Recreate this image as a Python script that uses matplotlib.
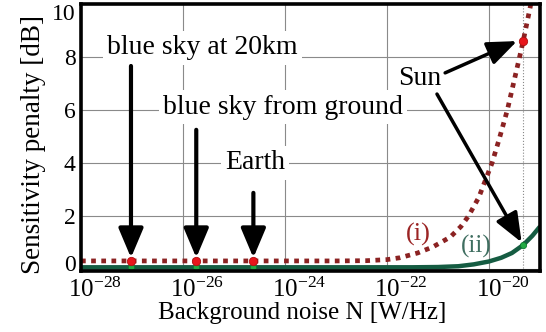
import numpy as np
import matplotlib
matplotlib.use("Agg")
import matplotlib.pyplot as plt
from matplotlib.transforms import ScaledTranslation

plt.rcParams['font.family'] = ['Liberation Serif', 'DejaVu Serif']
plt.rcParams['mathtext.fontset'] = 'custom'
plt.rcParams['mathtext.rm'] = 'Liberation Serif'
plt.rcParams['mathtext.it'] = 'Liberation Serif:italic'

# curve (i): dotted, log10(N) vs penalty [dB]
logN_i = [-28.0, -24.0, -23.0, -22.4, -22.0, -21.75, -21.4, -21.1, -20.76, -20.55,
          -20.40, -20.2, -19.94, -19.8, -19.64, -19.52, -19.40, -19.33, -19.19, -19.1]
pen_i = [0.3, 0.3, 0.3, 0.31, 0.35, 0.42, 0.6, 0.83, 1.2, 1.6,
         2.0, 2.7, 4.0, 4.9, 6.0, 7.0, 8.0, 8.6, 9.9, 11.0]

# curve (ii): solid green
logN_ii = [-28.0, -21.5, -21.0, -20.6, -20.3, -20.0, -19.76, -19.55, -19.33, -19.15, -19.0]
pen_ii = [0.06, 0.06, 0.07, 0.1, 0.17, 0.28, 0.42, 0.6, 0.9, 1.25, 1.6]

# background noise sources
src_names = ['blue sky at 20km', 'blue sky from ground', 'Earth', 'Sun']
src_logN = [-27.02, -25.74, -24.62, -19.33]

xticks = [1e-28, 1e-26, 1e-24, 1e-22, 1e-20]
yticks = [0, 2, 4, 6, 8, 10]

red = '#8b2222'
green = '#155c42'

fig = plt.figure(figsize=(5.46, 3.32), dpi=100)
ax = fig.add_axes([81/546, 1-271/332, 459/546, 267/332])

N_i = 10.0 ** np.array(logN_i)
N_ii = 10.0 ** np.array(logN_ii)
ax.plot(N_ii, pen_ii, color=green, lw=3.2, solid_capstyle='butt', zorder=3)
ax.plot(N_i, pen_i, color=red, lw=3.4, linestyle=(0, (1.0, 1.15)), zorder=3)

src_N = 10.0 ** np.array(src_logN)
y_red = np.interp(src_logN, logN_i, pen_i)
y_green = np.interp(src_logN, logN_ii, pen_ii)
ax.plot(src_N, y_green, 'o', ms=4.5, mfc='#22aa44', mec='#0d7a30', mew=0.6, zorder=4)
ax.plot(src_N, y_red, 'o', ms=6, mfc='#e8161c', mec='#b01010', mew=0.6, zorder=5)

# sun guide line
ax.axvline(src_N[3], color='#888888', lw=0.8, ls=':', zorder=1)

# vertical arrows
arr = dict(arrowstyle='-|>,head_length=0.9,head_width=0.38', mutation_scale=20,
           lw=3, color='k', shrinkA=0, shrinkB=0)
tops = [7.66, 5.25, 2.87]
for k in range(3):
    ax.annotate('', xy=(src_N[k], y_red[k] + 0.12), xytext=(src_N[k], tops[k]),
                arrowprops=arr, zorder=6)

arr2 = dict(arrowstyle='-|>,head_length=1.0,head_width=0.4', mutation_scale=18,
            lw=2.5, color='k', shrinkA=0, shrinkB=0)
ax.annotate('', xy=(10 ** -19.45, 8.6), xytext=(10 ** -20.86, 7.4),
            arrowprops=arr2, zorder=6)
ax.annotate('', xy=(10 ** -19.36, 1.0), xytext=(10 ** -21.02, 6.6),
            arrowprops=arr2, zorder=6)

box = dict(boxstyle='square,pad=0.15', fc='white', ec='none')
ax.text(10 ** -21.78, 7.2, src_names[3], fontsize=20, ha='left', va='center',
        bbox=dict(boxstyle='square,pad=0.25', fc='white', ec='none'), zorder=1.8)
ax.text(10 ** -27.49, 8.34, src_names[0], fontsize=20, ha='left', va='center', bbox=box, zorder=2)
ax.text(10 ** -26.39, 6.11, src_names[1], fontsize=20, ha='left', va='center', bbox=box, zorder=2)
ax.text(10 ** -25.17, 4.0, src_names[2], fontsize=20, ha='left', va='center', bbox=box, zorder=2)

ax.text(10 ** -21.38, 1.3, '(i)', fontsize=19, color='#9b2424', ha='center', va='center', zorder=4)
ax.text(10 ** -20.25, 0.85, '(ii)', fontsize=18, color='#3f6e60', ha='center', va='center', zorder=4)

ax.set_xscale('log')
ax.set_xlim(1e-28, 1e-19)
ax.set_ylim(-0.08, 10)
ax.set_xticks(xticks)
ax.set_xticklabels([r'$\mathregular{10^{-%d}}$' % int(round(-np.log10(t))) for t in xticks])
ax.xaxis.set_minor_locator(matplotlib.ticker.NullLocator())
ax.set_yticks(yticks)
ax.tick_params(axis='both', length=0, labelsize=17)
ax.tick_params(axis='x', pad=5, labelsize=18)
ax.tick_params(axis='y', pad=4)
ax.grid(True, color='#8a8a8a', lw=0.8, zorder=0)
ax.set_axisbelow(True)
for s in ax.spines.values():
    s.set_linewidth(2.6)
    s.set_color('k')
    s.set_zorder(7)

off = ScaledTranslation(14/100, 0, fig.dpi_scale_trans)
for lab in ax.get_xticklabels():
    lab.set_transform(lab.get_transform() + off)
ylabs = ax.get_yticklabels()
ylabs[-1].set_transform(ylabs[-1].get_transform() + ScaledTranslation(0, -8/100, fig.dpi_scale_trans))
ylabs[0].set_transform(ylabs[0].get_transform() + ScaledTranslation(0, 6/100, fig.dpi_scale_trans))

ax.set_xlabel('Background noise N [W/Hz]', fontsize=18)
ax.xaxis.set_label_coords(0.481, -0.115)
ax.set_ylabel('Sensitivity penalty [dB]', fontsize=19.5)
ax.yaxis.set_label_coords(-0.077, 0.472)

fig.savefig('out.png', dpi=100)
